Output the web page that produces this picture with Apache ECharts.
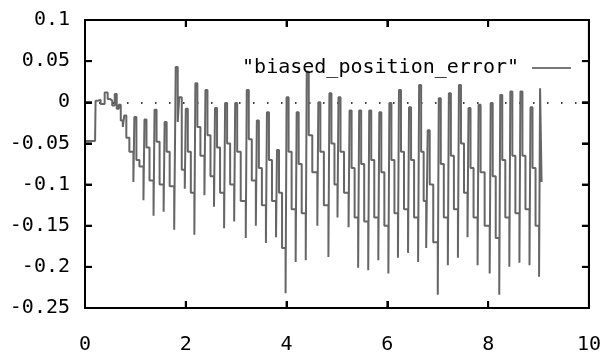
<!DOCTYPE html>
<html>
<head>
<meta charset="utf-8">
<script src="https://cdn.jsdelivr.net/npm/echarts@6/dist/echarts.min.js"></script>
<style>body{margin:0} .c{width:604px;height:359px;float:left}</style>
</head>
<body>
<div id="chart" class="c"></div>
<script>
const seriesName = 'biased_position_error';
const xTicks = [0, 2, 4, 6, 8, 10];
const xTickLabels = ['0', '2', '4', '6', '8', '10'];
const yTicks = [-0.25, -0.2, -0.15, -0.1, -0.05, 0, 0.05, 0.1];
const yTickLabels = ['-0.25', '-0.2', '-0.15', '-0.1', '-0.05', '0', '0.05', '0.1'];

const timeValues = [
  0, 0.20, 0.21, 0.26, 0.31, 0.39, 0.45, 0.50, 0.54, 0.59, 0.63, 0.67, 0.71, 0.75,
  0.78, 0.82, 0.88, 0.96,
  0.98, 1.02, 1.08, 1.16,
  1.18, 1.22, 1.28, 1.36,
  1.38, 1.42, 1.48, 1.56,
  1.58, 1.62, 1.68, 1.77,
  1.80, 1.84, 1.87, 1.92, 1.98,
  2.00, 2.04, 2.10, 2.17,
  2.19, 2.23, 2.29, 2.37,
  2.39, 2.43, 2.49, 2.56,
  2.58, 2.62, 2.68, 2.76,
  2.78, 2.82, 2.88, 2.96,
  2.98, 3.02, 3.09, 3.19,
  3.21, 3.25, 3.31, 3.39,
  3.41, 3.45, 3.51, 3.59,
  3.61, 3.65, 3.71, 3.79,
  3.81, 3.85, 3.91, 3.98,
  4.00, 4.04, 4.10, 4.18,
  4.20, 4.24, 4.30, 4.38,
  4.40, 4.44, 4.51, 4.61,
  4.63, 4.67, 4.74, 4.83,
  4.85, 4.89, 4.95, 5.01,
  5.03, 5.07, 5.14, 5.23,
  5.25, 5.29, 5.35, 5.42,
  5.44, 5.48, 5.54, 5.62,
  5.64, 5.68, 5.74, 5.82,
  5.84, 5.88, 5.94, 6.02,
  6.04, 6.08, 6.14, 6.21,
  6.23, 6.27, 6.33, 6.41,
  6.43, 6.47, 6.53, 6.61,
  6.63, 6.67, 6.72, 6.77,
  6.80, 6.84, 6.91, 7.00,
  7.02, 7.06, 7.12, 7.20,
  7.22, 7.26, 7.32, 7.40,
  7.42, 7.46, 7.52, 7.59,
  7.61, 7.65, 7.71, 7.79,
  7.81, 7.85, 7.93, 8.03,
  8.05, 8.09, 8.15, 8.22,
  8.24, 8.28, 8.34, 8.42,
  8.44, 8.48, 8.54, 8.62,
  8.64, 8.68, 8.74, 8.82,
  8.84, 8.88, 8.94, 9.01,
  9.03, 9.06
];

const errorValues = [
  -0.047, -0.047, 0.002, 0.003, -0.002, 0.012, 0.004, 0.002, -0.004, 0.010, -0.008, -0.003, -0.022, -0.030,
  -0.016, -0.043, -0.060, -0.097,
  -0.018, -0.070, -0.078, -0.119,
  -0.021, -0.055, -0.095, -0.138,
  -0.009, -0.048, -0.100, -0.133,
  -0.024, -0.060, -0.102, -0.155,
  0.043, -0.024, 0.006, -0.082, -0.105,
  -0.008, -0.060, -0.110, -0.161,
  0.023, -0.030, -0.065, -0.113,
  0.015, -0.040, -0.090, -0.127,
  -0.007, -0.055, -0.110, -0.153,
  -0.001, -0.050, -0.100, -0.145,
  -0.001, -0.060, -0.120, -0.165,
  0.015, -0.045, -0.095, -0.150,
  -0.022, -0.080, -0.125, -0.171,
  -0.012, -0.070, -0.120, -0.164,
  -0.058, -0.110, -0.177, -0.232,
  0.006, -0.060, -0.130, -0.194,
  -0.012, -0.075, -0.135, -0.192,
  0.037, -0.040, -0.085, -0.150,
  0.000, -0.060, -0.125, -0.188,
  0.011, -0.050, -0.100, -0.140,
  0.006, -0.060, -0.110, -0.152,
  -0.010, -0.080, -0.140, -0.201,
  -0.010, -0.075, -0.145, -0.204,
  -0.010, -0.070, -0.140, -0.192,
  -0.012, -0.085, -0.150, -0.208,
  -0.001, -0.070, -0.135, -0.189,
  0.015, -0.060, -0.130, -0.183,
  -0.006, -0.070, -0.140, -0.194,
  0.021, -0.060, -0.120, -0.177,
  -0.034, -0.100, -0.170, -0.234,
  0.005, -0.075, -0.140, -0.198,
  0.011, -0.065, -0.130, -0.189,
  0.021, -0.050, -0.110, -0.164,
  -0.007, -0.080, -0.140, -0.198,
  -0.003, -0.085, -0.150, -0.208,
  -0.001, -0.090, -0.165, -0.234,
  0.009, -0.070, -0.140, -0.200,
  0.013, -0.065, -0.135, -0.195,
  0.013, -0.065, -0.130, -0.198,
  -0.006, -0.080, -0.150, -0.212,
  0.017, -0.097
];

const FONT = 'DejaVu Sans Mono';
const points = timeValues.map((t, i) => [t, errorValues[i]]);

function labelFor(ticks, labels, v) {
  for (let i = 0; i < ticks.length; i++) {
    if (Math.abs(ticks[i] - v) < 1e-9) return labels[i];
  }
  return String(v);
}
function mkLine() { return {show: true, onZero: false, lineStyle: {color: '#000', width: 2}}; }
function mkTick() { return {show: true, inside: true, length: 7, lineStyle: {color: '#000', width: 2}}; }

const option = {
  animation: false,
  backgroundColor: '#fff',
  grid: {left: 85, right: 12, top: 20, bottom: 51, containLabel: false, show: true, borderColor: '#000', borderWidth: 2, backgroundColor: 'transparent'},
  legend: {
    data: [seriesName], right: 27, top: 53, align: 'right', itemWidth: 39,
    formatter: '"{name}"', itemStyle: {opacity: 0}, lineStyle: {color: '#777', width: 2},
    textStyle: {fontFamily: FONT, fontSize: 20, color: '#000', padding: [0, 8, 0, 0]},
    selectedMode: false
  },
  xAxis: [
    {type: 'value', min: 0, max: 10, interval: 2, position: 'bottom', axisLine: mkLine(), axisTick: mkTick(), splitLine: {show: false},
      axisLabel: {margin: 27, fontFamily: FONT, fontSize: 20, color: '#000', formatter: v => labelFor(xTicks, xTickLabels, v)}},
    {type: 'value', min: 0, max: 10, interval: 2, position: 'top', axisLine: mkLine(), axisTick: mkTick(), splitLine: {show: false}, axisLabel: {show: false}}
  ],
  yAxis: [
    {type: 'value', min: -0.25, max: 0.1, interval: 0.05, position: 'left', axisLine: mkLine(), axisTick: mkTick(), splitLine: {show: false},
      axisLabel: {margin: 15, fontFamily: FONT, fontSize: 20, color: '#000', formatter: v => labelFor(yTicks, yTickLabels, v)}},
    {type: 'value', min: -0.25, max: 0.1, interval: 0.05, position: 'right', axisLine: mkLine(), axisTick: mkTick(), splitLine: {show: false}, axisLabel: {show: false}}
  ],
  series: [{
    name: seriesName, type: 'line', step: 'end', data: points, showSymbol: false, symbol: 'none',
    lineStyle: {color: '#666', width: 2}, z: 3,
    markLine: {silent: true, symbol: 'none', label: {show: false},
      lineStyle: {color: '#000', width: 1.5, type: [1.5, 12.5]}, data: [{yAxis: 0}], z: 2}
  }]
};
const chart = echarts.init(document.getElementById('chart'));
chart.setOption(option);

// Frame and inward mirrored ticks, positioned through the chart's own scales.
const fr = {xAxisIndex: 0, yAxisIndex: 0};
const xMin = xTicks[0], xMax = xTicks[xTicks.length - 1];
const yMin = yTicks[0], yMax = yTicks[yTicks.length - 1];
const pLB = chart.convertToPixel(fr, [xMin, yMin]);
const pRT = chart.convertToPixel(fr, [xMax, yMax]);
const L = pLB[0], B = pLB[1], R = pRT[0], T = pRT[1];
const TL = 7;
const strokeStyle = {stroke: '#000', lineWidth: 2, fill: null};
const gfx = [{type: 'rect', z: 100, silent: true, shape: {x: L, y: T, width: R - L, height: B - T}, style: strokeStyle}];
xTicks.slice(1, -1).forEach(v => {
  const px = chart.convertToPixel(fr, [v, yMin])[0];
  gfx.push({type: 'line', z: 100, silent: true, shape: {x1: px, y1: B, x2: px, y2: B - TL}, style: strokeStyle});
  gfx.push({type: 'line', z: 100, silent: true, shape: {x1: px, y1: T, x2: px, y2: T + TL}, style: strokeStyle});
});
yTicks.slice(1, -1).forEach(v => {
  const py = chart.convertToPixel(fr, [xMin, v])[1];
  gfx.push({type: 'line', z: 100, silent: true, shape: {x1: L, y1: py, x2: L + TL, y2: py}, style: strokeStyle});
  gfx.push({type: 'line', z: 100, silent: true, shape: {x1: R, y1: py, x2: R - TL, y2: py}, style: strokeStyle});
});
chart.setOption({graphic: gfx});
</script>
</body>
</html>
